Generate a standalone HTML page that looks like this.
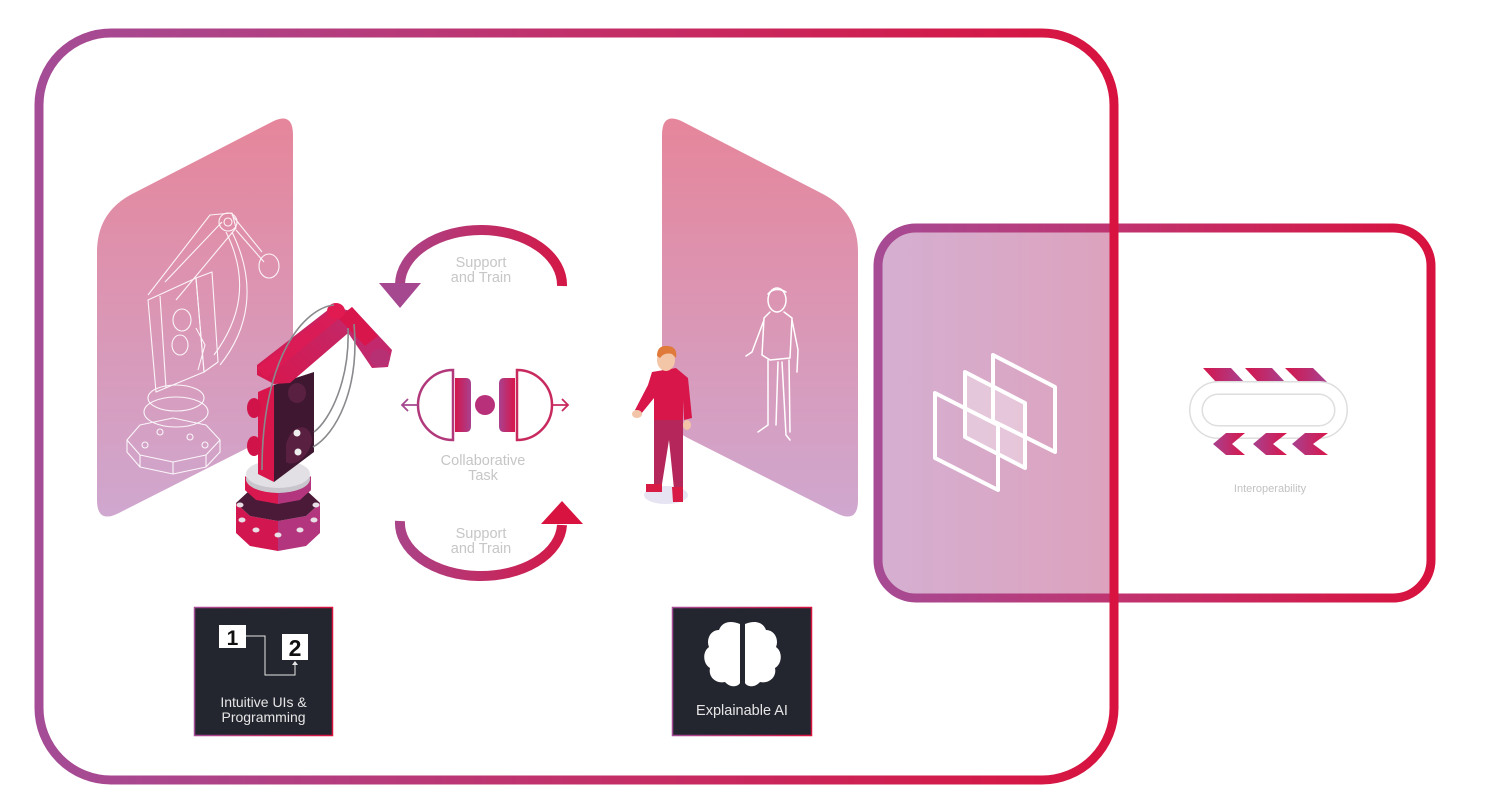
<!DOCTYPE html>
<html><head><meta charset="utf-8"><style>
html,body{margin:0;padding:0;background:#fff;}
svg{display:block;}
text{font-family:"Liberation Sans",Arial,sans-serif;}
</style></head><body>
<svg width="1485" height="807" viewBox="0 0 1485 807" xmlns="http://www.w3.org/2000/svg">
<defs>
  <linearGradient id="bigS" gradientUnits="userSpaceOnUse" x1="39" y1="0" x2="1114" y2="0">
    <stop offset="0" stop-color="#a44c96"/><stop offset="0.5" stop-color="#c2306a"/><stop offset="1" stop-color="#d8133f"/>
  </linearGradient>
  <linearGradient id="smS" gradientUnits="userSpaceOnUse" x1="878" y1="0" x2="1431" y2="0">
    <stop offset="0" stop-color="#a64b94"/><stop offset="0.5" stop-color="#c3306a"/><stop offset="1" stop-color="#d8123e"/>
  </linearGradient>
  <linearGradient id="smF" gradientUnits="userSpaceOnUse" x1="880" y1="0" x2="1112" y2="0">
    <stop offset="0" stop-color="#d5afd1"/><stop offset="1" stop-color="#dca2bd"/>
  </linearGradient>
  <linearGradient id="pan" gradientUnits="userSpaceOnUse" x1="0" y1="111" x2="0" y2="524">
    <stop offset="0" stop-color="#e6859a"/><stop offset="1" stop-color="#cfa8d0"/>
  </linearGradient>
  <linearGradient id="arr" gradientUnits="userSpaceOnUse" x1="380" y1="0" x2="585" y2="0">
    <stop offset="0" stop-color="#a6488f"/><stop offset="1" stop-color="#d8133f"/>
  </linearGradient>
  <linearGradient id="boxS" x1="0" y1="0" x2="1" y2="0">
    <stop offset="0" stop-color="#a44c96"/><stop offset="1" stop-color="#d8133f"/>
  </linearGradient>
  <linearGradient id="cr" x1="0" y1="0" x2="1" y2="0">
    <stop offset="0" stop-color="#d4164c"/><stop offset="1" stop-color="#a8418f"/>
  </linearGradient>
  <linearGradient id="pc" x1="0" y1="0" x2="1" y2="0">
    <stop offset="0" stop-color="#a8418f"/><stop offset="1" stop-color="#d8164a"/>
  </linearGradient>
  <linearGradient id="arm" x1="0" y1="1" x2="1" y2="0">
    <stop offset="0" stop-color="#d8164c"/><stop offset="1" stop-color="#c02a6c"/>
  </linearGradient>
</defs>

<!-- panels -->
<path d="M97,252 Q97,212 132.6,193.7 L271.7,122 Q293,111 293,135 L293,395 Q293,425 266.2,438.5 L118.4,513.2 Q97,524 97,500 Z" fill="url(#pan)"/>
<path d="M858,252 Q858,212 822.4,193.7 L683.3,122 Q662,111 662,135 L662,395 Q662,425 688.8,438.5 L836.6,513.2 Q858,524 858,500 Z" fill="url(#pan)"/>

<!-- wireframe robot -->
<g fill="none" stroke="#fff" stroke-width="1.1" opacity="0.9" stroke-linejoin="round">
  <polygon points="127,440 140,425 173,418 206,425 220,440 206,455 173,462 140,455"/>
  <polyline points="127,440 127,452 140,467 173,474 206,467 220,452 220,440"/>
  <line x1="140" y1="455" x2="140" y2="467"/><line x1="173" y1="462" x2="173" y2="474"/><line x1="206" y1="455" x2="206" y2="467"/>
  <ellipse cx="176" cy="412" rx="32" ry="15"/>
  <ellipse cx="176" cy="398" rx="28" ry="13"/>
  <polygon points="148,300 196,278 204,372 156,392"/>
  <polygon points="196,278 212,272 218,362 204,372"/>
  <line x1="160" y1="296" x2="166" y2="388"/>
  <ellipse cx="182" cy="320" rx="9" ry="11"/>
  <ellipse cx="180" cy="345" rx="8" ry="10"/>
  <path d="M148,295 L210,215 L232,213 L236,228 L176,300"/>
  <path d="M165,282 L222,222"/>
  <circle cx="228" cy="222" r="9"/>
  <circle cx="228" cy="222" r="4"/>
  <path d="M232,215 L262,252"/>
  <path d="M236,230 L264,262"/>
  <ellipse cx="269" cy="266" rx="10" ry="12"/>
  <path d="M226,232 C250,280 240,320 214,355"/>
  <path d="M232,232 C258,285 248,330 220,365"/>
  <path d="M196,328 L205,345 L198,370"/>
  <circle cx="160" cy="432" r="3"/><circle cx="190" cy="437" r="3"/><circle cx="205" cy="445" r="3"/><circle cx="145" cy="445" r="3"/>
</g>

<!-- robot -->
<g>
  <!-- lower tier -->
  <polygon points="236,503 250,516 278,521 278,551 250,546 236,533" fill="#d2164f"/>
  <polygon points="278,521 306,516 320,503 320,533 306,546 278,551" fill="#b3357d"/>
  <polygon points="236,503 250,490 278,485 306,490 320,503 306,516 278,521 250,516" fill="#4a1a38"/>
  <!-- upper tier -->
  <polygon points="245,490 256,480 278,476 300,480 311,490 300,500 278,504 256,500" fill="#4a1a38"/>
  <polygon points="245,476 256,486 278,490 278,504 256,500 245,490" fill="#d8184e"/>
  <polygon points="278,490 300,486 311,476 311,490 300,500 278,504" fill="#b3357d"/>
  <!-- bolts -->
  <g fill="#e8e0e6">
    <ellipse cx="242" cy="520" rx="3.5" ry="2.5"/><ellipse cx="256" cy="530" rx="3.5" ry="2.5"/><ellipse cx="278" cy="535" rx="3.5" ry="2.5"/><ellipse cx="300" cy="530" rx="3.5" ry="2.5"/><ellipse cx="314" cy="520" rx="3.5" ry="2.5"/>
    <ellipse cx="240" cy="505" rx="3.5" ry="2.5"/><ellipse cx="316" cy="505" rx="3.5" ry="2.5"/>
  </g>
  <!-- gray disk -->
  <ellipse cx="278" cy="479" rx="32" ry="14" fill="#c8c6cc"/>
  <ellipse cx="278" cy="474" rx="32" ry="14" fill="#e2e0e4"/>
  <!-- column -->
  <polygon points="274,385 314,372 314,452 274,482" fill="#3f1730"/>
  <polygon points="258,392 274,385 274,482 258,474" fill="#d8164c"/>
  <ellipse cx="254" cy="408" rx="7" ry="10" fill="#d0144a"/>
  <ellipse cx="254" cy="446" rx="7" ry="10" fill="#d0144a"/>
  <ellipse cx="297" cy="393" rx="9" ry="10" fill="#5a2042"/>
  <path d="M286,445 C290,425 310,420 312,440 C310,455 295,468 286,462 Z" fill="#5a2042"/>
  <circle cx="297" cy="433" r="3.5" fill="#eee"/>
  <circle cx="298" cy="452" r="3.5" fill="#eee"/>
  <!-- upper arm -->
  <polygon points="257,375 257,365 333,306 350,311 354,328 290,383 274,384" fill="url(#arm)"/>
  <polygon points="257,368 333,309 340,318 266,378" fill="#e01a52" opacity="0.7"/>
  <!-- forearm -->
  <polygon points="338,318 352,307 392,350 388,367 372,368" fill="#c3286c"/>
  <polygon points="338,318 352,307 378,336 365,346" fill="#d8164c"/>
  <ellipse cx="380" cy="358" rx="10" ry="9" fill="#b73074"/>
  <ellipse cx="336" cy="311" rx="9" ry="8" fill="#e21a52"/>
  <!-- cables -->
  <g fill="none" stroke="#8a8a8e" stroke-width="1.6">
    <path d="M334,305 C305,308 262,355 262,470"/>
    <path d="M348,328 C350,380 330,420 314,432"/>
    <path d="M354,324 C360,390 335,435 313,447"/>
  </g>
</g>

<!-- support arrows -->
<path d="M562,286 A81,55 0 0 0 400,284" fill="none" stroke="url(#arr)" stroke-width="10"/>
<polygon points="379,283 421,283 400,308" fill="#a6488f"/>
<path d="M400,521 A81,53 0 0 0 562,525" fill="none" stroke="url(#arr)" stroke-width="10"/>
<polygon points="541,524 583,524 562,501" fill="#d8133f"/>
<g font-size="14.5" fill="#c6c6c6" text-anchor="middle">
  <text x="481" y="267">Support</text>
  <text x="481" y="282">and Train</text>
  <text x="481" y="538">Support</text>
  <text x="481" y="553">and Train</text>
  <text x="483" y="465">Collaborative</text>
  <text x="483" y="480">Task</text>
</g>

<!-- collaborative icon -->
<g>
  <path d="M453,370 A35,35 0 0 0 453,440 Z" fill="#fff" stroke="#b2387c" stroke-width="2.5"/>
  <path d="M455,378 H466 Q471,378 471,384 V426 Q471,432 466,432 H455 Z" fill="url(#cr)"/>
  <circle cx="485" cy="405" r="10" fill="#b8307a"/>
  <path d="M515,378 H504 Q499,378 499,384 V426 Q499,432 504,432 H515 Z" fill="url(#pc)"/>
  <path d="M517,370 A35,35 0 0 1 517,440 Z" fill="#fff" stroke="#c82a5e" stroke-width="2.5"/>
  <path d="M418,405 H402 M408,399 L402,405 L408,411" fill="none" stroke="#a6488f" stroke-width="1.8"/>
  <path d="M552,405 H568 M562,399 L568,405 L562,411" fill="none" stroke="#c82a5e" stroke-width="1.8"/>
</g>

<!-- person -->
<g>
  <ellipse cx="666" cy="495" rx="22" ry="9" fill="#e6e4f2"/>
  <polygon points="654,416 683,416 683,488 674,489 669,440 662,484 654,484" fill="#b5275a"/>
  <polygon points="646,484 662,484 662,492 646,492" fill="#d81b45"/>
  <polygon points="672,487 683,487 683,502 673,502" fill="#d81b45"/>
  <path d="M652,372 L676,368 L688,378 L692,418 L684,420 L683,400 L683,420 L654,420 L654,398 L641,414 L635,410 L648,385 Z" fill="#d8164a"/>
  <ellipse cx="637" cy="414" rx="5" ry="4" fill="#f2c4a8"/>
  <ellipse cx="687" cy="425" rx="4" ry="5" fill="#f2c4a8"/>
  <ellipse cx="666" cy="360" rx="9" ry="11" fill="#f4c6a8"/>
  <path d="M657,356 Q657,345 668,346 Q678,347 676,358 L672,354 Q664,352 660,358 Z" fill="#e07a3a"/>
</g>

<!-- outline figure -->
<g fill="none" stroke="#fff" stroke-width="1.5" stroke-linejoin="round" stroke-linecap="round">
  <ellipse cx="777" cy="300" rx="9" ry="12"/>
  <path d="M768,294 Q775,286 786,292"/>
  <path d="M770,312 L764,318 L762,355 L770,360 L790,358 L792,318 L784,312"/>
  <path d="M764,320 L752,352 L746,356"/>
  <path d="M792,320 L798,350 L797,372"/>
  <path d="M768,360 L768,425 L758,432"/>
  <path d="M778,362 L776,425"/>
  <path d="M782,362 L786,435 L790,440"/>
  <path d="M789,360 L790,432"/>
</g>

<!-- dark boxes -->
<rect x="194.5" y="607.5" width="138" height="128" fill="#23252f" stroke="url(#boxS)" stroke-width="1.5"/>
<rect x="219" y="625" width="27" height="23" fill="#fff"/>
<text x="232.5" y="645" font-size="21" font-weight="bold" fill="#111" text-anchor="middle">1</text>
<rect x="282" y="634" width="26" height="26" fill="#fff"/>
<text x="295" y="656" font-size="23" font-weight="bold" fill="#111" text-anchor="middle">2</text>
<path d="M246,636 H265 V675 H295 V664" fill="none" stroke="#e6e6e6" stroke-width="1"/>
<polygon points="292,665 298,665 295,661" fill="#e6e6e6"/>
<text x="263.5" y="707" font-size="14" fill="#e6e6e6" text-anchor="middle">Intuitive UIs &amp;</text>
<text x="263.5" y="722" font-size="14" fill="#e6e6e6" text-anchor="middle">Programming</text>

<rect x="672.5" y="607.5" width="139" height="128" fill="#23252f" stroke="url(#boxS)" stroke-width="1.5"/>
<path d="M740,624 C730,620 722,622 719,630 C710,630 706,640 709,647 C702,652 703,664 710,668 C708,677 716,684 725,682 C730,688 738,687 740,683 Z" fill="#fff"/>
<path d="M745,624 C755,620 763,622 766,630 C775,630 779,640 776,647 C783,652 782,664 775,668 C777,677 769,684 760,682 C755,688 747,687 745,683 Z" fill="#fff"/>
<text x="742" y="715" font-size="14.5" fill="#e6e6e6" text-anchor="middle">Explainable AI</text>

<!-- small box fill -->
<path d="M1114,228 H916 A38,38 0 0 0 878,266 V560 A38,38 0 0 0 916,598 H1114 Z" fill="url(#smF)"/>

<!-- layers icon -->
<g stroke="#fff" stroke-width="4" stroke-linejoin="round">
  <polygon points="993,355 1055,387 1055,452 993,421" fill="none"/>
  <polygon points="965,372 1025,403 1025,468 965,437" fill="rgba(255,255,255,0.35)"/>
  <polygon points="935,393 998,425 998,490 935,458" fill="none"/>
</g>

<!-- interoperability icon -->
<g>
  <polygon points="1203,368 1231,368 1244,382 1216,382" fill="url(#cr)"/>
  <polygon points="1245,368 1272,368 1285,382 1258,382" fill="url(#cr)"/>
  <polygon points="1285,368 1313,368 1327,382 1299,382" fill="url(#cr)"/>
  <rect x="1196" y="388" width="145" height="44" rx="22" fill="none" stroke="#dedede" stroke-width="14"/>
  <rect x="1196" y="388" width="145" height="44" rx="22" fill="none" stroke="#fff" stroke-width="11"/>
  <polygon points="1226,433 1245,433 1232,444 1245,455 1226,455 1213,444" fill="url(#pc)"/>
  <polygon points="1266,433 1287,433 1273,444 1287,455 1266,455 1253,444" fill="url(#pc)"/>
  <polygon points="1305,433 1328,433 1313,444 1328,455 1305,455 1292,444" fill="url(#pc)"/>
</g>
<text x="1270" y="492" font-size="11" fill="#c2c2c2" text-anchor="middle">Interoperability</text>

<!-- frames -->
<rect x="878" y="228" width="553" height="370" rx="38" fill="none" stroke="url(#smS)" stroke-width="9"/>
<rect x="39" y="33" width="1075" height="747" rx="72" fill="none" stroke="url(#bigS)" stroke-width="9"/>
</svg>
</body></html>
